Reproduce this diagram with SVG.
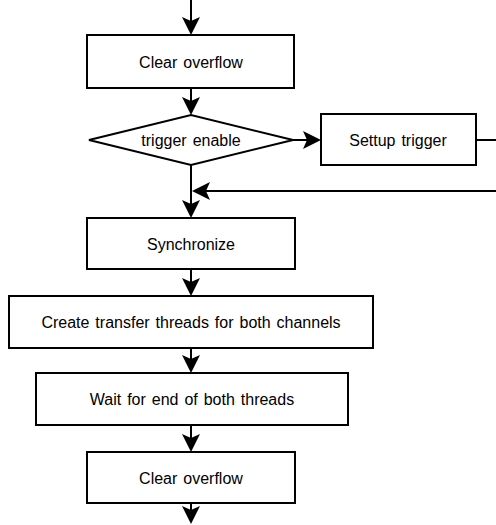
<svg xmlns="http://www.w3.org/2000/svg" width="496" height="525" viewBox="0 0 496 525">
  <style>
    .box { fill: #ffffff; stroke: #000000; stroke-width: 2; }
    .lbl { font-family: "Liberation Sans", Arial, sans-serif; font-size: 16px; word-spacing: 1.5px; fill: #000000; text-anchor: middle; dominant-baseline: central; }
    .edge { fill: none; stroke: #000000; stroke-width: 2; }
  </style>
  <defs>
    <!-- filled arrowhead with a notched back; reference point sits at the notch -->
    <marker id="arrow" viewBox="0 0 18 18" refX="4" refY="9" markerWidth="18" markerHeight="18" markerUnits="userSpaceOnUse" orient="auto">
      <path d="M0,0 L18,9 L0,18 L4,9 Z" fill="#000000"/>
    </marker>
  </defs>

  <g id="connectors">
    <line class="edge" x1="191" y1="0" x2="191" y2="21" marker-end="url(#arrow)"/>
    <line class="edge" x1="191" y1="88" x2="191" y2="101" marker-end="url(#arrow)"/>
    <line class="edge" x1="293" y1="140" x2="307" y2="140" marker-end="url(#arrow)"/>
    <line class="edge" x1="476" y1="140" x2="497" y2="140"/>
    <line class="edge" x1="497" y1="191" x2="206" y2="191" marker-end="url(#arrow)"/>
    <line class="edge" x1="191" y1="165" x2="191" y2="204" marker-end="url(#arrow)"/>
    <line class="edge" x1="191" y1="269" x2="191" y2="282" marker-end="url(#arrow)"/>
    <line class="edge" x1="191" y1="348" x2="191" y2="359" marker-end="url(#arrow)"/>
    <line class="edge" x1="191" y1="425" x2="191" y2="438" marker-end="url(#arrow)"/>
    <line class="edge" x1="191" y1="503" x2="191" y2="510" marker-end="url(#arrow)"/>
  </g>

  <g id="clear-overflow-1">
    <rect class="box" x="87" y="35" width="207" height="53"/>
    <text class="lbl" x="191" y="62">Clear overflow</text>
  </g>

  <g id="trigger-enable">
    <polygon class="box" points="89,140 191,115 293,140 191,165"/>
    <text class="lbl" x="191" y="140">trigger enable</text>
  </g>

  <g id="setup-trigger">
    <rect class="box" x="321" y="114" width="155" height="51"/>
    <text class="lbl" x="398" y="140">Settup trigger</text>
  </g>

  <g id="synchronize">
    <rect class="box" x="87" y="218" width="208" height="51"/>
    <text class="lbl" x="191" y="244">Synchronize</text>
  </g>

  <g id="create-threads">
    <rect class="box" x="9" y="296" width="364" height="52"/>
    <text class="lbl" x="191" y="322">Create transfer threads for both channels</text>
  </g>

  <g id="wait-threads">
    <rect class="box" x="36" y="373" width="312" height="52"/>
    <text class="lbl" x="192" y="399">Wait for end of both threads</text>
  </g>

  <g id="clear-overflow-2">
    <rect class="box" x="87" y="452" width="208" height="51"/>
    <text class="lbl" x="191" y="478">Clear overflow</text>
  </g>
</svg>
